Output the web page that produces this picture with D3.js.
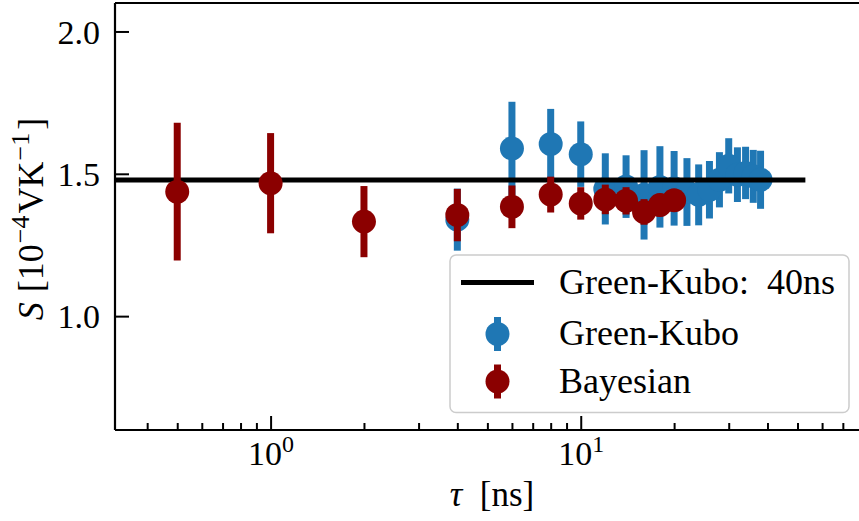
<!DOCTYPE html>
<html>
<head>
<meta charset="utf-8">
<script src="https://cdn.jsdelivr.net/npm/d3@7"></script>
<style>
  body { margin: 0; background: #fff; }
  svg { display: block; }
  text { font-family: "Liberation Serif", "Times New Roman", serif; fill: #000; }
</style>
</head>
<body>
<svg id="chart" width="859" height="521"></svg>
<script>
// Green-Kubo estimates of the Seebeck coefficient vs. correlation time
const tauGK = [4, 6, 8, 10, 12, 14, 16, 18, 20, 22, 24, 26, 28, 30, 32, 34, 36, 38];
const sGK   = [1.339, 1.589, 1.605, 1.569, 1.447, 1.455, 1.426, 1.454, 1.449, 1.436,
               1.426, 1.444, 1.479, 1.528, 1.497, 1.503, 1.491, 1.479];
const errGK = [0.109, 0.164, 0.123, 0.115, 0.125, 0.110, 0.157, 0.143, 0.131, 0.119,
               0.107, 0.101, 0.097, 0.097, 0.096, 0.092, 0.093, 0.102];

// Bayesian estimates
const tauBayes = [0.5, 1, 2, 4, 6, 8, 10, 12, 14, 16, 18, 20];
const sBayes   = [1.437, 1.467, 1.332, 1.355, 1.384, 1.427, 1.396, 1.410, 1.405, 1.366, 1.390, 1.407];
const errBayes = [0.242, 0.176, 0.125, 0.092, 0.075, 0.063, 0.057, 0.052, 0.048, 0.045, 0.040, 0.035];

// Reference value from the 40 ns Green-Kubo run
const refValue = 1.478;
const refSpan  = [0.2, 53];

// Axis ticks
const xMajorTicks = [1, 10];
const xMajorExponents = ["0", "1"];
const xMinorTicks = [0.4, 0.5, 0.6, 0.7, 0.8, 0.9, 2, 3, 4, 5, 6, 7, 8, 9, 20, 30, 40, 50, 60, 70, 80];
const yTicks = [1.0, 1.5, 2.0];

const legendLabels = ["Green-Kubo:  40ns", "Green-Kubo", "Bayesian"];

// ---------------------------------------------------------------------------
const plot = { left: 115, right: 869, top: 3, bottom: 430 };
const colors = { gk: "#1f77b4", bayes: "#8b0000", ref: "#000000" };
const fontSize = 34;

const x = d3.scaleLog().domain([0.315, 85]).range([plot.left, plot.right]);
const y = d3.scaleLinear().domain([0.6, 2.1]).range([plot.bottom, plot.top]);

const svg = d3.select("#chart");

svg.append("defs").append("clipPath").attr("id", "plot-clip")
  .append("rect")
  .attr("x", plot.left).attr("y", plot.top)
  .attr("width", plot.right - plot.left).attr("height", plot.bottom - plot.top);

const layer = svg.append("g").attr("clip-path", "url(#plot-clip)");

function drawSeries(g, taus, vals, errs, color) {
  const pts = taus.map((t, i) => ({ t, v: vals[i], e: errs[i] }));
  g.selectAll("line.err").data(pts).join("line")
    .attr("class", "err")
    .attr("x1", d => x(d.t)).attr("x2", d => x(d.t))
    .attr("y1", d => y(d.v - d.e)).attr("y2", d => y(d.v + d.e))
    .attr("stroke", color).attr("stroke-width", 7);
  g.selectAll("circle").data(pts).join("circle")
    .attr("cx", d => x(d.t)).attr("cy", d => y(d.v))
    .attr("r", 12).attr("fill", color);
}

drawSeries(layer.append("g"), tauGK, sGK, errGK, colors.gk);

layer.append("line")
  .attr("x1", x(refSpan[0])).attr("x2", x(refSpan[1]))
  .attr("y1", y(refValue)).attr("y2", y(refValue))
  .attr("stroke", colors.ref).attr("stroke-width", 5);

drawSeries(layer.append("g"), tauBayes, sBayes, errBayes, colors.bayes);

// ---- axes (ticks point inward) ----
const gxMinor = svg.append("g").attr("transform", `translate(0,${plot.bottom})`)
  .call(d3.axisBottom(x).tickValues(xMinorTicks).tickSize(-7).tickFormat(""));
const gxMajor = svg.append("g").attr("transform", `translate(0,${plot.bottom})`)
  .call(d3.axisBottom(x).tickValues(xMajorTicks).tickSize(-14).tickFormat(""));
const gy = svg.append("g").attr("transform", `translate(${plot.left},0)`)
  .call(d3.axisLeft(y).tickValues(yTicks).tickSize(-14).tickFormat(d3.format(".1f")));

[gxMinor, gxMajor, gy].forEach(g => {
  g.select(".domain").remove();
  g.selectAll(".tick line").attr("stroke", "#000").attr("stroke-width", 2);
});

gy.selectAll(".tick text")
  .attr("x", -15).attr("dy", "0.34em")
  .attr("font-size", fontSize).attr("text-anchor", "end");

gxMajor.selectAll(".tick text").each(function(d, i) {
  const t = d3.select(this).text(null)
    .attr("y", 35).attr("dy", null)
    .attr("font-size", fontSize).attr("text-anchor", "middle");
  t.append("tspan").text("10");
  t.append("tspan").attr("font-size", 24).attr("dy", -13).text(xMajorExponents[i]);
});

// spines (right side lies beyond the visible canvas)
const spine = svg.append("g").attr("stroke", "#000").attr("stroke-width", 2.2).attr("fill", "none");
spine.append("line").attr("x1", plot.left).attr("x2", plot.right).attr("y1", plot.top).attr("y2", plot.top);
spine.append("line").attr("x1", plot.left).attr("x2", plot.right).attr("y1", plot.bottom).attr("y2", plot.bottom);
spine.append("line").attr("x1", plot.left).attr("x2", plot.left).attr("y1", plot.top).attr("y2", plot.bottom);
spine.append("line").attr("x1", plot.right).attr("x2", plot.right).attr("y1", plot.top).attr("y2", plot.bottom);

// ---- axis labels ----
const xl = svg.append("text")
  .attr("x", (plot.left + plot.right) / 2).attr("y", 506)
  .attr("font-size", 35).attr("text-anchor", "middle")
  .style("white-space", "pre");
xl.append("tspan").attr("font-style", "italic").text("τ");
xl.append("tspan").text("  [ns]");

const yl = svg.append("text")
  .attr("transform", `translate(43,219) rotate(-90)`)
  .attr("font-size", 36).attr("text-anchor", "middle");
yl.append("tspan").attr("font-style", "italic").text("S");
yl.append("tspan").attr("dx", 10).text("[10");
yl.append("tspan").attr("font-size", 26).attr("dy", -14).attr("dx", 1).text("−4");
yl.append("tspan").attr("dy", 14).attr("dx", 2).text("VK");
yl.append("tspan").attr("font-size", 26).attr("dy", -14).attr("dx", 1).text("−1");
yl.append("tspan").attr("dy", 14).attr("dx", 3).text("]");

// ---- legend ----
const lg = svg.append("g");
lg.append("rect")
  .attr("x", 450).attr("y", 255).attr("width", 399).attr("height", 157.5)
  .attr("rx", 6).attr("fill", "#fff").attr("fill-opacity", 0.8)
  .attr("stroke", "#cccccc").attr("stroke-width", 1.5);

const rows = [282.5, 334, 381.5];
lg.append("line")
  .attr("x1", 461).attr("x2", 534).attr("y1", rows[0]).attr("y2", rows[0])
  .attr("stroke", colors.ref).attr("stroke-width", 5);
[[rows[1], colors.gk], [rows[2], colors.bayes]].forEach(([cy, c]) => {
  lg.append("line").attr("x1", 497.5).attr("x2", 497.5).attr("y1", cy - 17).attr("y2", cy + 17)
    .attr("stroke", c).attr("stroke-width", 7);
  lg.append("circle").attr("cx", 497.5).attr("cy", cy).attr("r", 12).attr("fill", c);
});
legendLabels.forEach((s, i) => {
  lg.append("text").attr("x", 559).attr("y", rows[i] + 11)
    .attr("font-size", 36).style("white-space", "pre").text(s);
});
</script>
</body>
</html>
